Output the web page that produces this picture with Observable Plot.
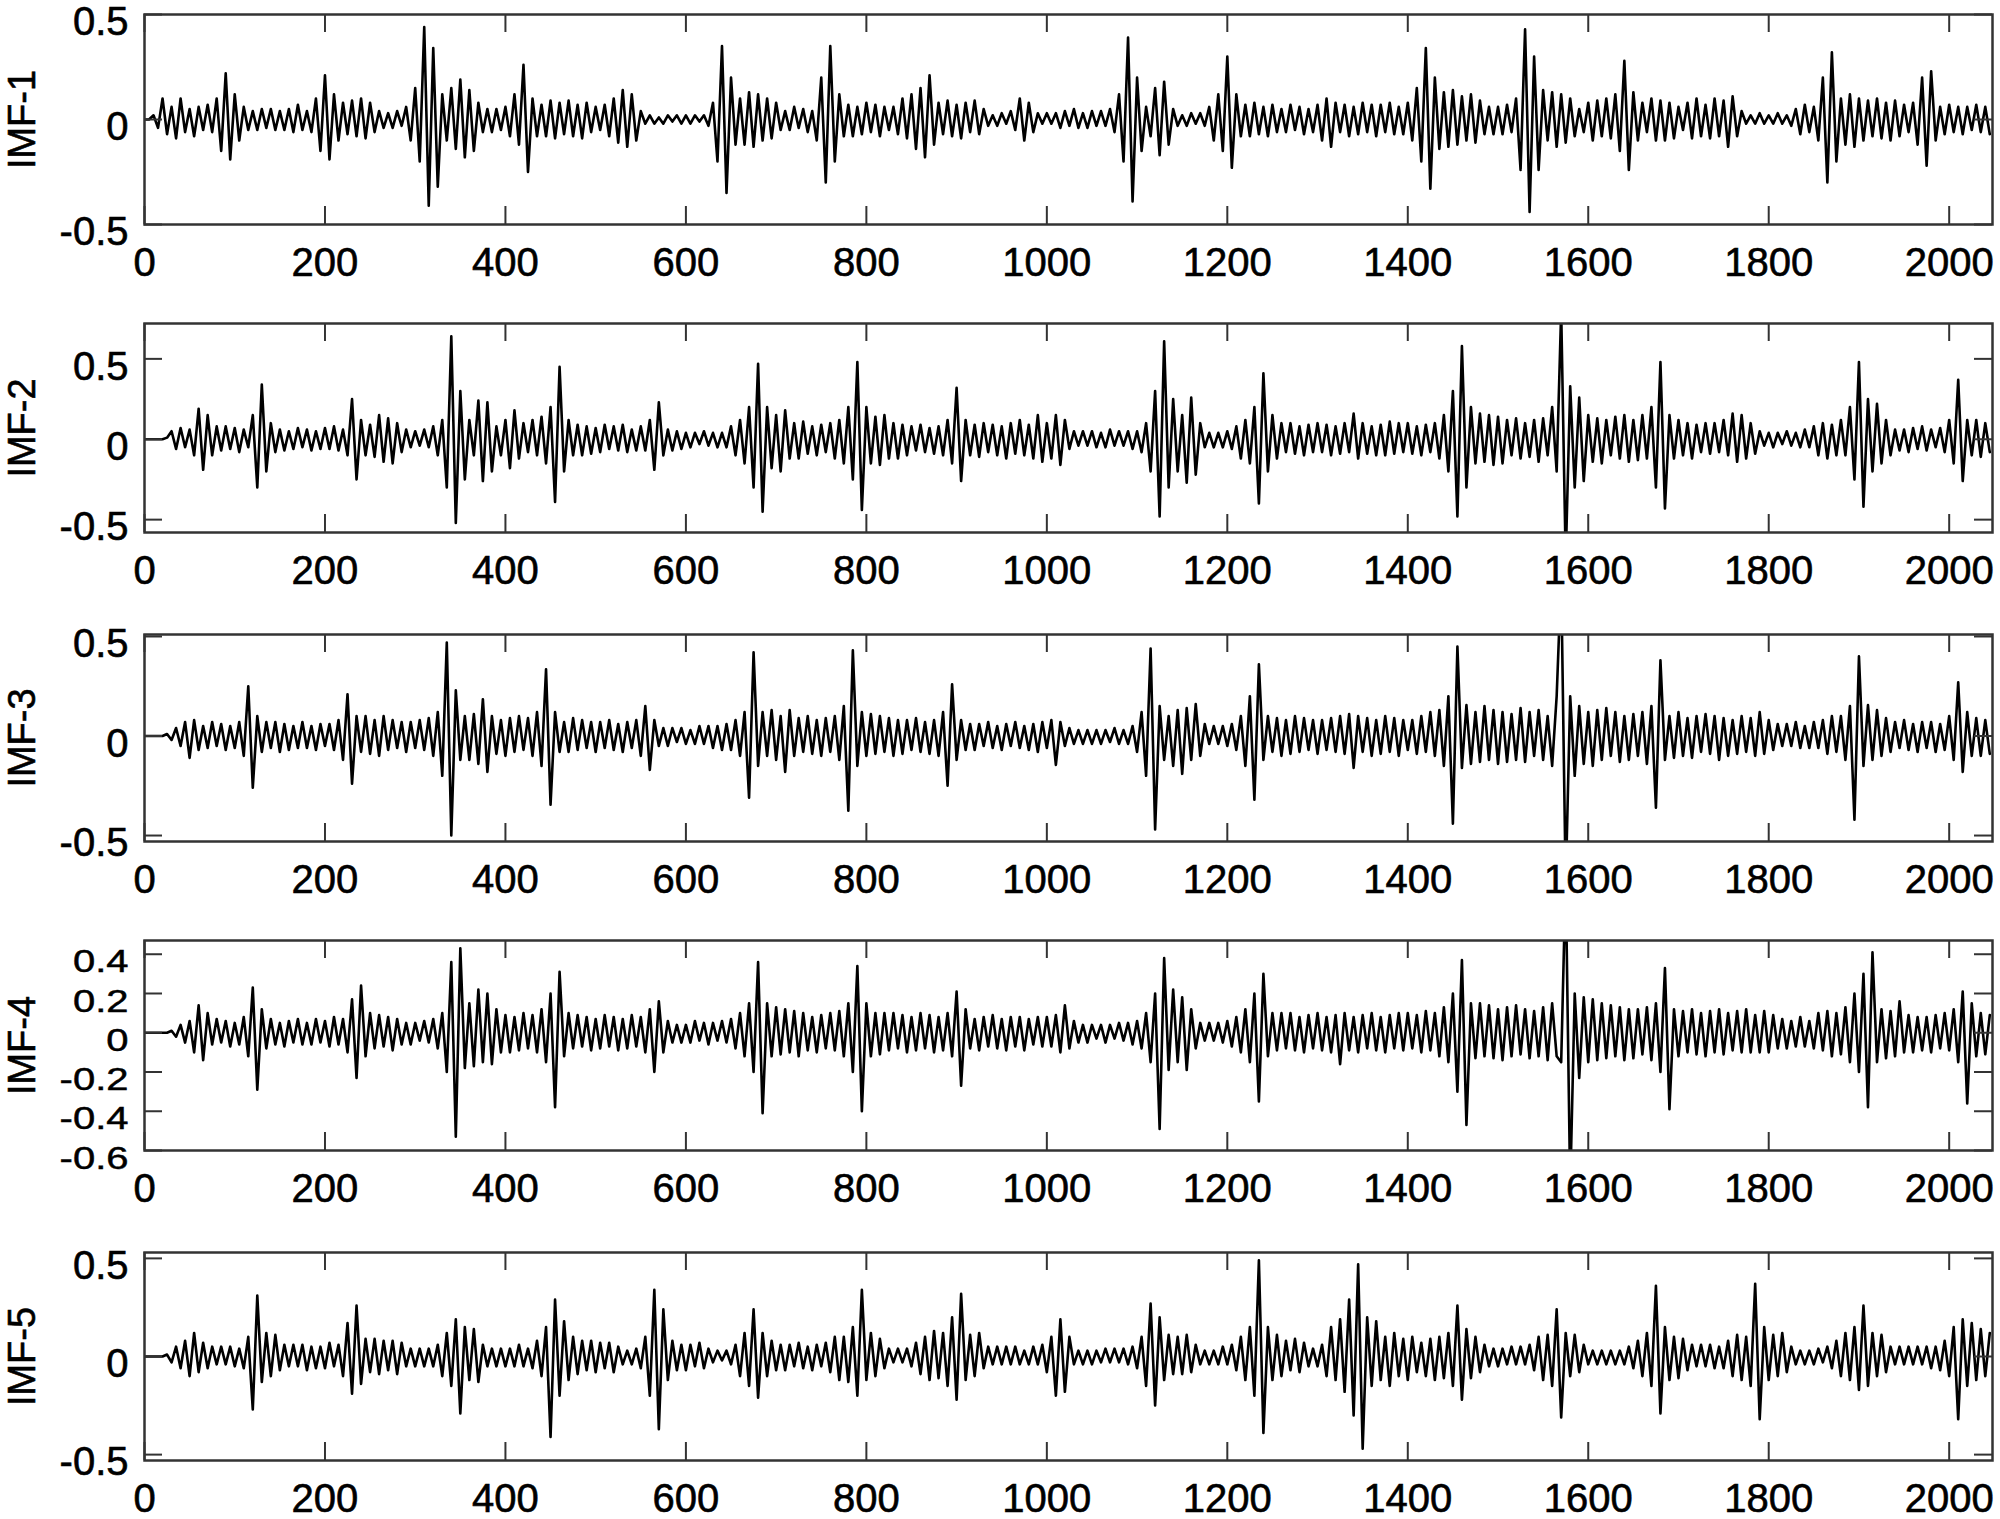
<!DOCTYPE html>
<html><head><meta charset="utf-8">
<script src="https://cdn.jsdelivr.net/npm/d3@7"></script>
<script src="https://cdn.jsdelivr.net/npm/@observablehq/plot@0.6"></script>
<style>
html,body{margin:0;background:#fff;overflow:hidden;}
#chart{position:relative;width:2000px;height:1519px;}
#chart svg{display:block;position:absolute;left:0;}
#chart svg text{stroke:#000;stroke-width:0.6px;}
</style></head><body><div id="chart"></div>
<script>
// sample spacing of the values (x = index * step)
const step = 5;
const xTicks = [0,200,400,600,800,1000,1200,1400,1600,1800,2000];
const labels = ["IMF-1","IMF-2","IMF-3","IMF-4","IMF-5"];

const imf1 = [
0,0,.02,-.04,.1,-.07,.06,-.09,.1,-.06,.05,-.08,.06,-.05,.07,-.06,.1,-.15,.22,-.19,
.12,-.1,.06,-.05,.04,-.05,.05,-.04,.05,-.05,.04,-.05,.05,-.06,.07,-.05,.04,-.06,.1,-.15,
.21,-.19,.12,-.1,.08,-.07,.09,-.08,.1,-.09,.08,-.06,.04,-.04,.03,-.04,.04,-.03,.06,-.1,
.15,-.2,.44,-.41,.34,-.32,.12,-.1,.15,-.14,.19,-.18,.14,-.15,.08,-.06,.05,-.06,.05,-.05,
.06,-.08,.12,-.12,.26,-.25,.1,-.08,.07,-.08,.09,-.09,.08,-.07,.09,-.08,.07,-.09,.08,-.06,
.06,-.05,.07,-.08,.1,-.11,.14,-.13,.12,-.1,.04,-.02,.02,-.02,.01,-.02,.02,-.01,.02,-.02,
.02,-.02,.02,-.01,.02,-.03,.08,-.2,.35,-.35,.2,-.12,.1,-.12,.13,-.13,.12,-.1,.1,-.09,
.08,-.05,.04,-.05,.06,-.04,.05,-.06,.04,-.1,.2,-.3,.35,-.2,.12,-.08,.07,-.08,.06,-.07,
.08,-.06,.07,-.08,.06,-.05,.06,-.07,.1,-.09,.12,-.14,.15,-.18,.21,-.12,.08,-.07,.09,-.08,
.07,-.09,.08,-.06,.09,-.07,.05,-.03,.02,-.03,.03,-.02,.04,-.05,.1,-.1,.08,-.06,.03,-.02,
.03,-.02,.03,-.04,.04,-.03,.05,-.04,.03,-.04,.04,-.03,.04,-.03,.05,-.06,.12,-.2,.39,-.39,
.2,-.15,.06,-.08,.15,-.17,.18,-.12,.05,-.03,.02,-.03,.03,-.02,.03,-.03,.06,-.1,.12,-.15,
.3,-.23,.12,-.08,.07,-.08,.08,-.07,.06,-.08,.07,-.06,.05,-.06,.07,-.05,.06,-.07,.05,-.06,
.07,-.1,.1,-.13,.08,-.06,.07,-.08,.06,-.07,.08,-.06,.07,-.08,.07,-.06,.08,-.07,.06,-.07,
.08,-.1,.15,-.2,.34,-.33,.2,-.14,.13,-.13,.14,-.12,.11,-.1,.12,-.11,.09,-.07,.06,-.07,
.06,-.07,.07,-.06,.1,-.24,.43,-.44,.3,-.24,.14,-.1,.13,-.13,.12,-.11,.1,-.08,.05,-.06,
.08,-.1,.09,-.08,.1,-.09,.12,-.15,.28,-.24,.13,-.1,.08,-.06,.1,-.1,.09,-.1,.08,-.09,
.06,-.05,.08,-.09,.1,-.08,.07,-.09,.1,-.08,.09,-.13,.11,-.08,.04,-.02,.02,-.02,.03,-.02,
.02,-.02,.03,-.02,.02,-.03,.05,-.07,.07,-.06,.06,-.1,.2,-.3,.32,-.2,.1,-.12,.12,-.13,
.1,-.1,.09,-.08,.1,-.09,.08,-.1,.09,-.08,.07,-.06,.08,-.12,.2,-.22,.23,-.1,.06,-.07,
.07,-.06,.06,-.07,.06,-.05,.07,-.06,.06,-.07
];

const imf2 = [
0,0,0,0,0,.01,.05,-.06,.07,-.05,.06,-.1,.19,-.19,.15,-.1,.08,-.07,.08,-.06,
.07,-.08,.06,-.05,.15,-.3,.34,-.2,.1,-.08,.06,-.07,.05,-.06,.07,-.05,.06,-.07,.05,-.06,
.07,-.06,.08,-.07,.06,-.1,.25,-.25,.12,-.1,.09,-.11,.15,-.14,.13,-.15,.1,-.08,.06,-.05,
.05,-.04,.06,-.05,.08,-.1,.12,-.3,.64,-.52,.3,-.25,.12,-.1,.24,-.26,.23,-.2,.08,-.1,
.12,-.18,.18,-.12,.1,-.08,.12,-.1,.14,-.15,.2,-.39,.45,-.2,.12,-.1,.09,-.1,.08,-.09,
.07,-.08,.09,-.06,.08,-.07,.09,-.08,.06,-.07,.08,-.07,.12,-.19,.23,-.1,.06,-.07,.05,-.06,
.04,-.05,.04,-.03,.05,-.04,.04,-.05,.04,-.05,.08,-.1,.12,-.15,.2,-.3,.47,-.45,.2,-.18,
.15,-.2,.18,-.12,.1,-.12,.11,-.09,.08,-.1,.09,-.08,.1,-.12,.12,-.15,.2,-.25,.48,-.44,
.2,-.15,.14,-.16,.15,-.12,.1,-.12,.09,-.1,.08,-.07,.09,-.08,.07,-.09,.08,-.1,.12,-.15,
.32,-.26,.12,-.1,.09,-.11,.1,-.08,.09,-.1,.08,-.12,.1,-.09,.12,-.1,.09,-.12,.15,-.14,
.1,-.12,.15,-.16,.12,-.06,.05,-.04,.05,-.04,.05,-.05,.04,-.05,.06,-.04,.05,-.04,.05,-.06,
.05,-.08,.1,-.2,.3,-.48,.61,-.3,.25,-.2,.15,-.27,.26,-.22,.1,-.05,.04,-.05,.04,-.05,
.05,-.06,.08,-.12,.12,-.15,.2,-.4,.41,-.2,.15,-.12,.1,-.08,.1,-.09,.08,-.1,.09,-.08,
.1,-.08,.09,-.1,.08,-.09,.1,-.08,.16,-.12,.1,-.09,.08,-.1,.09,-.1,.11,-.09,.1,-.08,
.1,-.09,.08,-.1,.09,-.08,.1,-.12,.15,-.2,.3,-.48,.58,-.3,.2,-.15,.16,-.14,.15,-.16,
.14,-.15,.12,-.1,.13,-.12,.1,-.11,.12,-.14,.13,-.1,.2,-.2,.8,-.75,.33,-.3,.26,-.26,
.15,-.14,.13,-.15,.12,-.1,.14,-.12,.15,-.14,.12,-.13,.15,-.12,.2,-.3,.48,-.43,.15,-.12,
.12,-.1,.1,-.12,.09,-.08,.1,-.09,.1,-.08,.12,-.1,.16,-.14,.15,-.12,.1,-.09,.05,-.04,
.04,-.05,.04,-.03,.05,-.04,.04,-.05,.06,-.05,.08,-.1,.1,-.12,.09,-.1,.12,-.1,.2,-.25,
.48,-.42,.25,-.2,.22,-.15,.12,-.1,.06,-.07,.06,-.08,.07,-.06,.08,-.07,.06,-.05,.07,-.08,
.12,-.15,.37,-.26,.12,-.1,.12,-.11,.1,-.08
];

const imf3 = [
0,0,0,0,0,.01,-.02,.04,-.05,.07,-.11,.08,-.07,.05,-.06,.07,-.05,.06,-.07,.05,
-.06,.07,-.1,.25,-.26,.1,-.08,.07,-.06,.07,-.08,.06,-.07,.05,-.06,.07,-.06,.05,-.07,.06,
-.05,.06,-.07,.08,-.12,.21,-.24,.1,-.08,.1,-.09,.08,-.1,.1,-.07,.08,-.06,.07,-.08,.07,
-.06,.08,-.07,.09,-.1,.12,-.2,.47,-.5,.23,-.12,.1,-.12,.11,-.14,.185,-.18,.1,-.09,.08,
-.1,.09,-.08,.1,-.07,.09,-.1,.12,-.15,.335,-.345,.12,-.08,.07,-.08,.09,-.07,.08,-.06,.07,
-.08,.07,-.06,.08,-.07,.06,-.08,.07,-.06,.08,-.1,.15,-.17,.08,-.05,.04,-.05,.04,-.03,.04,
-.04,.03,-.04,.05,-.04,.05,-.06,.05,-.07,.06,-.07,.08,-.1,.12,-.31,.42,-.15,.12,-.1,.13,
-.12,.1,-.18,.13,-.1,.09,-.08,.1,-.09,.08,-.1,.09,-.08,.1,-.12,.15,-.375,.43,-.15,.12,
-.1,.11,-.09,.1,-.08,.09,-.1,.08,-.09,.08,-.07,.09,-.08,.07,-.09,.08,-.1,.12,-.25,.26,
-.12,.08,-.07,.06,-.07,.06,-.05,.07,-.06,.05,-.07,.06,-.05,.07,-.06,.05,-.07,.06,-.08,.07,
-.06,.08,-.145,.07,-.05,.04,-.04,.03,-.04,.03,-.04,.03,-.04,.03,-.03,.04,-.04,.03,-.04,.05,
-.08,.12,-.2,.44,-.47,.15,-.12,.1,-.15,.13,-.19,.14,-.12,.16,-.1,.06,-.04,.05,-.04,.05,
-.05,.06,-.07,.1,-.15,.2,-.32,.36,-.12,.1,-.08,.09,-.1,.08,-.09,.1,-.08,.09,-.07,.08,
-.09,.08,-.07,.09,-.08,.1,-.09,.11,-.16,.1,-.08,.09,-.1,.08,-.09,.1,-.08,.09,-.1,.08,
-.07,.08,-.09,.1,-.08,.12,-.1,.13,-.15,.2,-.44,.45,-.16,.155,-.14,.12,-.13,.15,-.12,.13,
-.14,.12,-.13,.11,-.12,.14,-.13,.12,-.1,.13,-.12,.1,-.15,.2,.8,-.75,.2,-.2,.15,-.14,
.12,-.15,.13,-.12,.14,-.1,.12,-.13,.1,-.12,.11,-.1,.12,-.14,.15,-.36,.38,-.12,.1,-.11,
.12,-.1,.09,-.11,.1,-.08,.11,-.09,.1,-.12,.09,-.1,.08,-.09,.1,-.08,.09,-.1,.12,-.09,
.08,-.07,.06,-.05,.06,-.05,.07,-.06,.05,-.06,.07,-.06,.08,-.09,.1,-.08,.1,-.12,.15,-.42,
.4,-.15,.155,-.12,.13,-.1,.09,-.08,.07,-.06,.08,-.07,.06,-.08,.07,-.06,.07,-.08,.06,-.07,
.1,-.12,.27,-.18,.12,-.1,.09,-.1,.08,-.09
];

const imf4 = [
0,0,0,0,0,0,.01,-.02,.04,-.05,.06,-.1,.14,-.14,.1,-.06,.07,-.05,.06,-.07,
.05,-.06,.08,-.12,.23,-.29,.12,-.08,.07,-.06,.05,-.07,.06,-.05,.07,-.06,.05,-.06,.07,-.05,
.06,-.07,.08,-.06,.07,-.1,.17,-.23,.24,-.12,.1,-.08,.09,-.07,.08,-.09,.07,-.06,.05,-.06,
.05,-.04,.06,-.05,.07,-.08,.1,-.2,.36,-.53,.43,-.18,.15,-.17,.22,-.15,.2,-.16,.12,-.1,
.09,-.1,.08,-.09,.1,-.08,.09,-.1,.12,-.15,.2,-.38,.31,-.12,.1,-.08,.09,-.07,.08,-.09,
.07,-.08,.09,-.07,.08,-.09,.07,-.08,.09,-.07,.08,-.1,.12,-.2,.16,-.1,.06,-.05,.04,-.05,
.04,-.05,.06,-.04,.05,-.06,.05,-.04,.06,-.05,.07,-.08,.1,-.12,.15,-.2,.36,-.41,.15,-.12,
.13,-.11,.12,-.1,.11,-.12,.1,-.09,.08,-.1,.09,-.08,.1,-.09,.11,-.12,.15,-.2,.34,-.4,
.15,-.12,.1,-.11,.1,-.09,.1,-.08,.09,-.1,.08,-.09,.1,-.08,.09,-.1,.08,-.09,.1,-.12,
.21,-.27,.12,-.08,.07,-.09,.08,-.07,.09,-.08,.07,-.09,.08,-.07,.08,-.09,.07,-.06,.08,-.07,
.08,-.07,.09,-.1,.14,-.08,.06,-.05,.04,-.05,.04,-.03,.04,-.05,.04,-.03,.05,-.04,.05,-.06,
.06,-.08,.1,-.15,.2,-.49,.38,-.19,.22,-.15,.18,-.19,.12,-.08,.05,-.04,.05,-.04,.05,-.05,
.06,-.07,.08,-.1,.12,-.15,.2,-.35,.3,-.12,.1,-.09,.1,-.08,.1,-.09,.08,-.1,.09,-.08,
.1,-.09,.08,-.1,.09,-.16,.1,-.09,.08,-.1,.09,-.08,.1,-.09,.08,-.1,.09,-.08,.1,-.09,
.1,-.08,.09,-.1,.11,-.09,.1,-.12,.13,-.15,.2,-.3,.37,-.47,.15,-.13,.15,-.12,.14,-.13,
.12,-.14,.13,-.12,.14,-.11,.12,-.13,.11,-.12,.13,-.14,.15,-.12,-.15,.8,-.8,.2,-.23,.18,
-.15,.17,-.14,.15,-.13,.14,-.12,.13,-.14,.12,-.13,.12,-.11,.13,-.14,.15,-.2,.33,-.39,.12,
-.12,.11,-.1,.12,-.11,.1,-.12,.11,-.1,.12,-.11,.1,-.09,.11,-.1,.12,-.1,.09,-.1,.11,
-.1,.09,-.08,.07,-.08,.06,-.07,.08,-.07,.06,-.08,.1,-.09,.11,-.12,.1,-.11,.13,-.15,.2,
-.2,.3,-.38,.41,-.15,.12,-.13,.11,-.12,.16,-.1,.09,-.1,.08,-.09,.08,-.1,.09,-.08,.1,
-.09,.12,-.15,.21,-.36,.15,-.12,.1,-.11,.09
];

const imf5 = [
0,0,0,0,0,.01,-.03,.05,-.06,.08,-.1,.12,-.08,.07,-.06,.05,-.04,.05,-.04,.05,
-.05,.04,-.06,.1,-.27,.31,-.13,.12,-.1,.11,-.07,.06,-.05,.06,-.05,.06,-.07,.05,-.06,.05,
-.06,.07,-.05,.06,-.1,.17,-.19,.26,-.14,.09,-.08,.09,-.09,.08,-.07,.08,-.09,.07,-.05,.04,
-.05,.04,-.05,.04,-.05,.06,-.1,.12,-.15,.19,-.29,.15,-.12,.14,-.13,.06,-.05,.04,-.05,.04,
-.05,.04,-.05,.06,-.05,.04,-.06,.08,-.1,.15,-.41,.29,-.2,.18,-.12,.1,-.09,.08,-.07,.08,
-.08,.07,-.06,.07,-.08,.05,-.04,.03,-.04,.04,-.06,.1,-.2,.34,-.37,.24,-.12,.08,-.07,.06,
-.07,.06,-.05,.07,-.06,.04,-.03,.03,-.02,.03,-.04,.06,-.1,.12,-.15,.24,-.21,.12,-.1,.08,
-.07,.06,-.07,.06,-.05,.07,-.06,.05,-.07,.06,-.05,.07,-.08,.1,-.12,.1,-.13,.15,-.2,.34,
-.12,.12,-.1,.09,-.06,.04,-.03,.04,-.03,.04,-.05,.07,-.09,.1,-.12,.13,-.11,.12,-.15,.2,
-.22,.32,-.12,.11,-.1,.12,-.06,.05,-.04,.05,-.04,.05,-.04,.05,-.04,.03,-.04,.05,-.04,.06,
-.08,.1,-.2,.19,-.18,.1,-.04,.03,-.04,.03,-.04,.03,-.03,.04,-.03,.04,-.03,.04,-.04,.05,
-.06,.1,-.15,.27,-.25,.2,-.12,.11,-.09,.1,-.09,.11,-.08,.06,-.04,.03,-.04,.03,-.04,.05,
-.04,.06,-.07,.1,-.12,.15,-.2,.49,-.39,.15,-.12,.11,-.1,.08,-.07,.09,-.08,.07,-.05,.04,
-.05,.06,-.1,.15,-.12,.19,-.18,.29,-.3,.47,-.47,.2,-.15,.18,-.12,.1,-.15,.12,-.1,.09,
-.12,.1,-.08,.07,-.1,.09,-.12,.1,-.11,.12,-.15,.26,-.22,.14,-.11,.1,-.08,.06,-.05,.04,
-.05,.04,-.04,.05,-.04,.05,-.04,.06,-.07,.1,-.12,.11,-.15,.24,-.31,.12,-.1,.11,-.08,.06,
-.04,.03,-.04,.03,-.04,.03,-.04,.03,-.04,.05,-.06,.08,-.1,.12,-.15,.36,-.29,.15,-.12,.1,
-.11,.09,-.07,.06,-.05,.06,-.05,.06,-.06,.05,-.06,.08,-.1,.11,-.12,.1,-.15,.37,-.32,.15,
-.12,.11,-.1,.12,-.08,.05,-.04,.03,-.04,.03,-.04,.04,-.03,.05,-.06,.08,-.1,.12,-.12,.15,
-.17,.26,-.15,.12,-.1,.11,-.08,.05,-.04,.05,-.04,.05,-.04,.05,-.04,.05,-.06,.05,-.07,.08,
-.1,.15,-.32,.19,-.15,.17,-.12,.14,-.1,.12
];

const series = [imf1, imf2, imf3, imf4, imf5];
const yDomains = [[-0.5,0.5],[-0.58,0.72],[-0.53,0.51],[-0.6,0.47],[-0.53,0.53]];
const yTicks = [
  [-0.5,0,0.5],
  [-0.5,0,0.5],
  [-0.5,0,0.5],
  [-0.6,-0.4,-0.2,0,0.2,0.4],
  [-0.5,0,0.5]
];

// layout: frame top, frame height, marginTop, marginBottom (px)
const frameTop = [14, 323, 634, 940, 1252];
const frameH = [210, 209, 207, 210, 208];
const marginTop = [14, 40, 40, 40, 40];
const marginBottom = [80, 80, 80, 80, 59];
const W = 2000, ML = 144, MR = 8, TICK = 18;
const plotW = W - ML - MR;
const font = "'Liberation Sans', Arial, Helvetica, sans-serif";

const root = document.getElementById("chart");
series.forEach((vals, i) => {
  const fh = frameH[i], mt = marginTop[i], mb = marginBottom[i];
  const svg = Plot.plot({
    width: W, height: mt + fh + mb,
    marginLeft: ML, marginRight: MR, marginTop: mt, marginBottom: mb,
    x: {domain: [0, 2048]},
    y: {domain: yDomains[i]},
    style: {fontFamily: font, color: "#000", background: "none"},
    marks: [
      Plot.lineY(vals, {x: (d, j) => j * step, y: d => d, stroke: "#000", strokeWidth: 2.6, clip: true}),
      Plot.ruleX(xTicks, {x: d => d, insetBottom: fh - TICK, stroke: "#333", strokeWidth: 2}),
      Plot.ruleX(xTicks, {x: d => d, insetTop: fh - TICK, stroke: "#333", strokeWidth: 2}),
      Plot.ruleY(yTicks[i], {y: d => d, insetRight: plotW - TICK, stroke: "#333", strokeWidth: 2}),
      Plot.ruleY(yTicks[i], {y: d => d, insetLeft: plotW - TICK, stroke: "#333", strokeWidth: 2}),
      Plot.frame({stroke: "#333", strokeWidth: 2.5}),
      Plot.axisX(xTicks, {anchor: "bottom", tickSize: 0, tickPadding: 23, fontSize: 40, tickFormat: d => String(d), label: null}),
      Plot.axisY(yTicks[i], {anchor: "left", tickSize: 0, tickPadding: 16, fontSize: 40, dy: 8, tickFormat: d => String(d), label: null}),
      Plot.text([labels[i]], {text: d => d, frameAnchor: "left", textAnchor: "middle", dx: -122, rotate: -90, fontSize: 38, fill: "#000"})
    ]
  });
  svg.style.top = (frameTop[i] - mt) + "px";
  if (yTicks[i].length > 3) {
    // the reference squeezes these stacked labels vertically
    svg.querySelectorAll('g[aria-label="y-axis tick label"] text').forEach(t => {
      const tr = t.getAttribute("transform");
      if (tr && tr.indexOf("translate") >= 0) t.setAttribute("transform", tr + " scale(1,0.8)");
    });
  }
  root.appendChild(svg);
});
</script>
</body></html>
